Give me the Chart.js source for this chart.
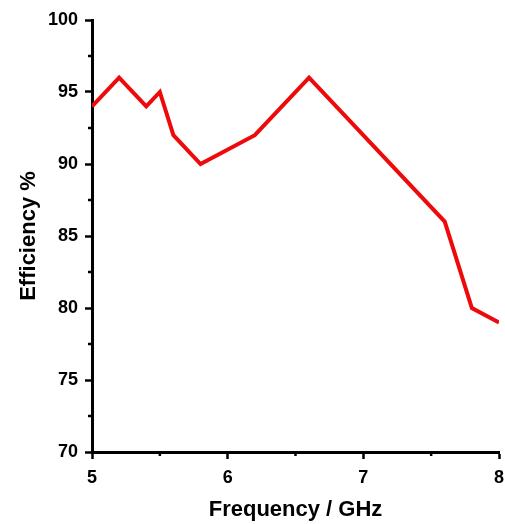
<!DOCTYPE html>
<html>
<head>
<meta charset="utf-8">
<script src="https://cdn.jsdelivr.net/npm/chart.js@4/dist/chart.umd.min.js"></script>
<style>
  html, body { margin: 0; padding: 0; background: #fff; }
  #wrap { width: 505px; height: 524px; }
</style>
</head>
<body>
<div id="wrap"><canvas id="c" width="505" height="524"></canvas></div>
<script>
// Measured efficiency across the band
const frequencyGHz = [5, 5.2, 5.4, 5.5, 5.6, 5.8, 6.2, 6.6, 7.6, 7.8, 8];
const efficiencyPct = [94, 96, 94, 95, 92, 90, 92, 96, 86, 80, 79];

const xMajorTicks = [5, 6, 7, 8];
const xMinorTicks = [5.5, 6.5, 7.5];
const yMajorTicks = [70, 75, 80, 85, 90, 95, 100];
const yMinorTicks = [72.5, 77.5, 82.5, 87.5, 92.5, 97.5];

const points = frequencyGHz.map((f, i) => ({ x: f, y: efficiencyPct[i] }));

const FONT = "'Liberation Sans', Arial, sans-serif";

// Short minor ticks drawn outside the plot, placed with the scales
const minorTicks = {
  id: 'minorTicks',
  afterDraw(chart) {
    const ctx = chart.ctx;
    const xs = chart.scales.x, ys = chart.scales.y;
    ctx.save();
    ctx.strokeStyle = '#000';
    ctx.lineWidth = 2.5;
    ctx.beginPath();
    xMinorTicks.forEach(v => {
      const px = xs.getPixelForValue(v);
      ctx.moveTo(px, xs.top);
      ctx.lineTo(px, xs.top + 4);
    });
    yMinorTicks.forEach(v => {
      const py = ys.getPixelForValue(v);
      ctx.moveTo(ys.right, py);
      ctx.lineTo(ys.right - 4, py);
    });
    ctx.stroke();
    ctx.restore();
  }
};

new Chart(document.getElementById('c'), {
  type: 'line',
  data: {
    datasets: [{
      data: points,
      borderColor: '#ee0a0a',
      borderWidth: 4,
      pointRadius: 0,
      tension: 0,
      fill: false,
      borderJoinStyle: 'miter'
    }]
  },
  options: {
    responsive: false,
    animation: false,
    layout: { padding: { top: 20, right: 6, left: 0, bottom: 0 } },
    plugins: { legend: { display: false }, tooltip: { enabled: false } },
    scales: {
      x: {
        type: 'linear',
        min: 5, max: 8,
        afterFit(s) { s.height = 72; s.paddingLeft = 0; s.paddingRight = 0; },
        afterBuildTicks(s) { s.ticks = xMajorTicks.map(v => ({ value: v })); },
        border: { display: true, color: '#000', width: 3 },
        grid: { drawOnChartArea: false, drawTicks: true, tickLength: 7, tickWidth: 2.5, tickColor: '#000' },
        ticks: { color: '#000', padding: 8, font: { family: FONT, size: 18, weight: 'bold' }, maxRotation: 0 },
        title: { display: true, text: 'Frequency / GHz', color: '#000', padding: { top: 0, bottom: 1 }, font: { family: FONT, size: 22, weight: 'bold' } }
      },
      y: {
        type: 'linear',
        min: 70, max: 100,
        afterFit(s) { s.width = 92; s.paddingTop = 0; s.paddingBottom = 0; },
        afterBuildTicks(s) { s.ticks = yMajorTicks.map(v => ({ value: v })); },
        border: { display: true, color: '#000', width: 3 },
        grid: { drawOnChartArea: false, drawTicks: true, tickLength: 7, tickWidth: 2.5, tickColor: '#000' },
        ticks: { color: '#000', padding: 7, font: { family: FONT, size: 18, weight: 'bold' } },
        title: { display: true, text: 'Efficiency %', color: '#000', padding: { top: 16, bottom: 0 }, font: { family: FONT, size: 22, weight: 'bold' } }
      }
    }
  },
  plugins: [minorTicks]
});
</script>
</body>
</html>
